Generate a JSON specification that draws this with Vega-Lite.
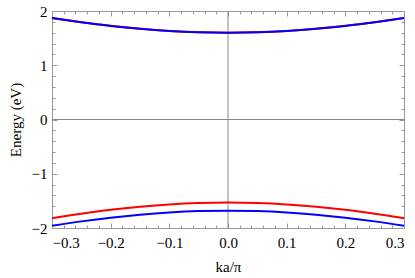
{
  "$schema": "https://vega.github.io/schema/vega-lite/v6.json",
  "width": 352,
  "height": 217,
  "autosize": {"type": "none"},
  "padding": {"left": 52, "top": 11, "right": 11, "bottom": 50},
  "datasets": {
    "red": [
      {"k": -0.3, "E": 1.872, "band": "upper"},
      {"k": -0.25, "E": 1.793, "band": "upper"},
      {"k": -0.2, "E": 1.726, "band": "upper"},
      {"k": -0.15, "E": 1.672, "band": "upper"},
      {"k": -0.1, "E": 1.633, "band": "upper"},
      {"k": -0.05, "E": 1.609, "band": "upper"},
      {"k": 0.0, "E": 1.601, "band": "upper"},
      {"k": 0.05, "E": 1.609, "band": "upper"},
      {"k": 0.1, "E": 1.633, "band": "upper"},
      {"k": 0.15, "E": 1.672, "band": "upper"},
      {"k": 0.2, "E": 1.726, "band": "upper"},
      {"k": 0.25, "E": 1.793, "band": "upper"},
      {"k": 0.3, "E": 1.872, "band": "upper"},
      {"k": -0.3, "E": -1.820, "band": "lower"},
      {"k": -0.25, "E": -1.737, "band": "lower"},
      {"k": -0.2, "E": -1.665, "band": "lower"},
      {"k": -0.15, "E": -1.608, "band": "lower"},
      {"k": -0.1, "E": -1.565, "band": "lower"},
      {"k": -0.05, "E": -1.539, "band": "lower"},
      {"k": 0.0, "E": -1.530, "band": "lower"},
      {"k": 0.05, "E": -1.539, "band": "lower"},
      {"k": 0.1, "E": -1.565, "band": "lower"},
      {"k": 0.15, "E": -1.608, "band": "lower"},
      {"k": 0.2, "E": -1.665, "band": "lower"},
      {"k": 0.25, "E": -1.737, "band": "lower"},
      {"k": 0.3, "E": -1.820, "band": "lower"}
    ],
    "blue": [
      {"k": -0.3, "E": 1.870, "band": "upper"},
      {"k": -0.25, "E": 1.792, "band": "upper"},
      {"k": -0.2, "E": 1.725, "band": "upper"},
      {"k": -0.15, "E": 1.672, "band": "upper"},
      {"k": -0.1, "E": 1.632, "band": "upper"},
      {"k": -0.05, "E": 1.608, "band": "upper"},
      {"k": 0.0, "E": 1.600, "band": "upper"},
      {"k": 0.05, "E": 1.608, "band": "upper"},
      {"k": 0.1, "E": 1.632, "band": "upper"},
      {"k": 0.15, "E": 1.672, "band": "upper"},
      {"k": 0.2, "E": 1.725, "band": "upper"},
      {"k": 0.25, "E": 1.792, "band": "upper"},
      {"k": 0.3, "E": 1.870, "band": "upper"},
      {"k": -0.3, "E": -1.959, "band": "lower"},
      {"k": -0.25, "E": -1.878, "band": "lower"},
      {"k": -0.2, "E": -1.809, "band": "lower"},
      {"k": -0.15, "E": -1.754, "band": "lower"},
      {"k": -0.1, "E": -1.713, "band": "lower"},
      {"k": -0.05, "E": -1.688, "band": "lower"},
      {"k": 0.0, "E": -1.680, "band": "lower"},
      {"k": 0.05, "E": -1.688, "band": "lower"},
      {"k": 0.1, "E": -1.713, "band": "lower"},
      {"k": 0.15, "E": -1.754, "band": "lower"},
      {"k": 0.2, "E": -1.809, "band": "lower"},
      {"k": 0.25, "E": -1.878, "band": "lower"},
      {"k": 0.3, "E": -1.959, "band": "lower"}
    ],
    "zero": [{"v": 0}]
  },
  "layer": [
    {
      "data": {"name": "zero"},
      "mark": {"type": "rule", "color": "#888888", "strokeWidth": 1},
      "encoding": {
        "x": {"field": "v", "type": "quantitative", "scale": {"domain": [-0.3, 0.3], "nice": false, "zero": false},
          "axis": {"orient": "bottom", "values": [-0.28,-0.26,-0.24,-0.22,-0.18,-0.16,-0.14,-0.12,-0.08,-0.06,-0.04,-0.02,0.02,0.04,0.06,0.08,0.12,0.14,0.16,0.18,0.22,0.24,0.26,0.28], "labels": false, "domain": false, "tickSize": -3, "title": null}}
      }
    },
    {
      "data": {"name": "zero"},
      "mark": {"type": "rule", "color": "#888888", "strokeWidth": 1},
      "encoding": {
        "y": {"field": "v", "type": "quantitative", "scale": {"domain": [-2, 2], "nice": false, "zero": false},
          "axis": {"orient": "left", "values": [-1.8,-1.6,-1.4,-1.2,-0.8,-0.6,-0.4,-0.2,0.2,0.4,0.6,0.8,1.2,1.4,1.6,1.8], "labels": false, "domain": false, "tickSize": -3, "title": null}}
      }
    },
    {
      "data": {"name": "red"},
      "mark": {"type": "line", "color": "#ff0000", "strokeWidth": 2, "interpolate": "monotone"},
      "encoding": {
        "x": {"field": "k", "type": "quantitative", "scale": {"domain": [-0.3, 0.3], "nice": false, "zero": false},
          "axis": {"orient": "bottom", "values": [-0.3,-0.2,-0.1,0,0.1,0.2,0.3], "format": ".1f", "tickSize": -5, "labelPadding": 12, "titlePadding": 9, "title": "ka/π",
            "labelFont": "Liberation Serif", "labelFontSize": 15, "titleFont": "Liberation Serif", "titleFontSize": 15}},
        "y": {"field": "E", "type": "quantitative", "scale": {"domain": [-2, 2], "nice": false, "zero": false},
          "axis": {"orient": "left", "values": [-2,-1,0,1,2], "format": "d", "tickSize": -5, "labelPadding": 10, "titlePadding": 8, "title": "Energy (eV)",
            "labelFont": "Liberation Serif", "labelFontSize": 15, "titleFont": "Liberation Serif", "titleFontSize": 15}},
        "detail": {"field": "band"}
      }
    },
    {
      "data": {"name": "blue"},
      "mark": {"type": "line", "color": "#0000ff", "strokeWidth": 2, "interpolate": "monotone"},
      "encoding": {
        "x": {"field": "k", "type": "quantitative", "scale": {"domain": [-0.3, 0.3], "nice": false, "zero": false},
          "axis": {"orient": "top", "values": [-0.3,-0.2,-0.1,0,0.1,0.2,0.3], "labels": false, "tickSize": -5, "title": null}},
        "y": {"field": "E", "type": "quantitative", "scale": {"domain": [-2, 2], "nice": false, "zero": false},
          "axis": {"orient": "right", "values": [-2,-1,0,1,2], "labels": false, "tickSize": -5, "title": null}},
        "detail": {"field": "band"}
      }
    },
    {
      "data": {"name": "blue"},
      "mark": {"type": "point", "opacity": 0},
      "encoding": {
        "x": {"field": "k", "type": "quantitative", "scale": {"domain": [-0.3, 0.3], "nice": false, "zero": false},
          "axis": {"orient": "top", "values": [-0.28,-0.26,-0.24,-0.22,-0.18,-0.16,-0.14,-0.12,-0.08,-0.06,-0.04,-0.02,0.02,0.04,0.06,0.08,0.12,0.14,0.16,0.18,0.22,0.24,0.26,0.28], "labels": false, "domain": false, "tickSize": -3, "title": null}},
        "y": {"field": "E", "type": "quantitative", "scale": {"domain": [-2, 2], "nice": false, "zero": false},
          "axis": {"orient": "right", "values": [-1.8,-1.6,-1.4,-1.2,-0.8,-0.6,-0.4,-0.2,0.2,0.4,0.6,0.8,1.2,1.4,1.6,1.8], "labels": false, "domain": false, "tickSize": -3, "title": null}}
      }
    }
  ],
  "resolve": {"axis": {"x": "independent", "y": "independent"}},
  "config": {
    "view": {"stroke": null},
    "axis": {
      "grid": false,
      "domainColor": "#999999",
      "tickColor": "#999999",
      "labelColor": "#000000",
      "titleFontWeight": "normal",
      "titleColor": "#000000"
    }
  }
}
